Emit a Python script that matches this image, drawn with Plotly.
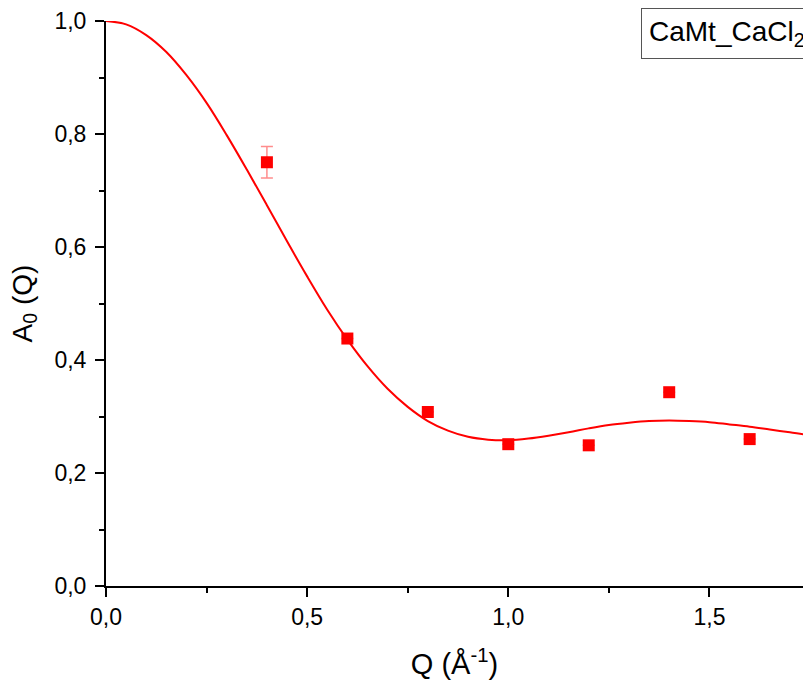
import plotly.graph_objects as go

# Measured data points
q_pts = [0.4, 0.6, 0.8, 1.0, 1.2, 1.4, 1.6]
a_pts = [0.750, 0.438, 0.308, 0.251, 0.249, 0.343, 0.260]
a_err = [0.028, 0.0, 0.0, 0.0, 0.0, 0.0, 0.0]

# Fit curve
q_fit = [0.00, 0.05, 0.10, 0.15, 0.20, 0.25, 0.30, 0.35, 0.40, 0.45, 0.50,
         0.55, 0.60, 0.65, 0.70, 0.75, 0.80, 0.85, 0.90, 0.95, 1.00, 1.05,
         1.10, 1.15, 1.20, 1.25, 1.30, 1.35, 1.40, 1.45, 1.50, 1.55, 1.60,
         1.65, 1.70, 1.75, 1.80]
a_fit = [1.000, 0.994, 0.975, 0.945, 0.904, 0.855, 0.798, 0.737, 0.674, 0.610,
         0.548, 0.489, 0.436, 0.389, 0.349, 0.317, 0.292, 0.275, 0.264, 0.259,
         0.258, 0.261, 0.266, 0.272, 0.279, 0.285, 0.289, 0.292, 0.293, 0.292,
         0.290, 0.286, 0.282, 0.277, 0.272, 0.267, 0.264]

x_ticks = [0.0, 0.5, 1.0, 1.5]
y_ticks = [0.0, 0.2, 0.4, 0.6, 0.8, 1.0]
legend_text = "CaMt_CaCl<sub>2</sub>"

FONT = "Liberation Sans, Arial, sans-serif"

fig = go.Figure()
fig.add_trace(go.Scatter(
    x=q_fit, y=a_fit, mode="lines", line=dict(color="#ff0000", width=2, shape="spline"),
    showlegend=False, hoverinfo="skip", cliponaxis=True))
fig.add_trace(go.Scatter(
    x=q_pts, y=a_pts, mode="markers",
    marker=dict(symbol="square", size=12, color="#ff0000", line=dict(width=0)),
    error_y=dict(type="data", array=a_err, visible=True, color="rgba(255,0,0,0.45)",
                 thickness=1.5, width=6),
    showlegend=False, cliponaxis=False))

fig.update_layout(
    width=803, height=681,
    margin=dict(l=106, r=0, t=21, b=95),
    paper_bgcolor="white", plot_bgcolor="white",
    separators=", ",
    font=dict(family=FONT, color="black"),
    showlegend=False,
)
fig.update_xaxes(
    range=[0, 1.7326], showline=True, linecolor="black", linewidth=2,
    showgrid=False, zeroline=False, mirror=False,
    tickmode="array", tickvals=x_ticks, tickformat=".1f",
    ticks="outside", ticklen=9, tickwidth=2, tickcolor="black",
    minor=dict(dtick=0.25, tick0=0, ticks="outside", ticklen=5, tickwidth=2, tickcolor="black"),
    tickfont=dict(size=23, family=FONT),
    title=dict(text="Q (Å<sup>-1</sup>)", font=dict(size=29, family=FONT), standoff=25),
    automargin=False,
)
fig.update_yaxes(
    range=[0, 1.0], showline=True, linecolor="black", linewidth=2,
    showgrid=False, zeroline=False, mirror=False,
    tickmode="array", tickvals=y_ticks, tickformat=".1f",
    ticks="outside", ticklen=9, tickwidth=2, tickcolor="black",
    minor=dict(dtick=0.1, tick0=0, ticks="outside", ticklen=5, tickwidth=2, tickcolor="black"),
    tickfont=dict(size=23, family=FONT), ticklabelstandoff=4,
    title=dict(text="A<sub>0</sub> (Q)", font=dict(size=28, family=FONT), standoff=14),
    automargin=False,
)
fig.add_annotation(
    xref="paper", yref="paper", x=0.7676, y=1.0225, xanchor="left", yanchor="top",
    text=legend_text, showarrow=False, align="left",
    font=dict(size=28, family=FONT, color="black"),
    bordercolor="#555555", borderwidth=1, borderpad=7, bgcolor="white",
)

fig.write_html(
    "out.html",
    config={"displayModeBar": False},
    post_script="document.body.style.margin='0';document.body.style.overflow='hidden';",
)
